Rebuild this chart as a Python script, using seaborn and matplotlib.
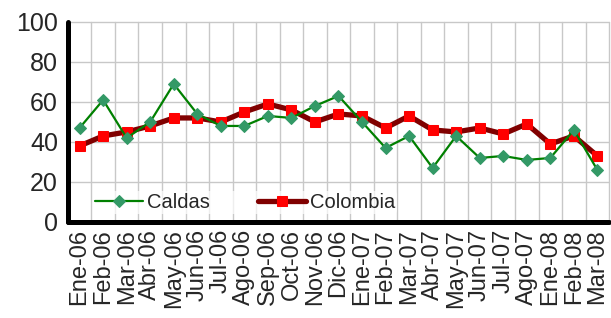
import numpy as np
import pandas as pd
import matplotlib
matplotlib.use("Agg")
import matplotlib.pyplot as plt
import seaborn as sns

# Datos
meses = ["Ene-06", "Feb-06", "Mar-06", "Abr-06", "May-06", "Jun-06", "Jul-06",
         "Ago-06", "Sep-06", "Oct-06", "Nov-06", "Dic-06", "Ene-07", "Feb-07",
         "Mar-07", "Abr-07", "May-07", "Jun-07", "Jul-07", "Ago-07", "Ene-08",
         "Feb-08", "Mar-08"]
caldas = [47, 61, 42, 50, 69, 54, 48, 48, 53, 52, 58, 63, 50, 37, 43, 27, 43,
          32, 33, 31, 32, 46, 26]
colombia = [38, 43, 45, 48, 52, 52, 50, 55, 59, 56, 50, 54, 53, 47, 53, 46, 45,
            47, 44, 49, 39, 43, 33]
y_ticks = [0, 20, 40, 60, 80, 100]

sns.set_style("white")
plt.rcParams['font.family'] = ['Liberation Sans', 'DejaVu Sans']

df = pd.DataFrame({'pos': np.arange(len(meses)), 'Caldas': caldas,
                   'Colombia': colombia})

fig = plt.figure(figsize=(6.11, 3.18), dpi=100)
ax = fig.add_axes([0.111, 0.302, 0.886, 0.629])

sns.lineplot(data=df, x='pos', y='Colombia', ax=ax, color='#800000',
             linewidth=3.8, marker='s', markersize=6.5,
             markerfacecolor='#ff0000', markeredgecolor='#ff0000',
             label='Colombia', zorder=3)
sns.lineplot(data=df, x='pos', y='Caldas', ax=ax, color='#008000',
             linewidth=1.6, marker='D', markersize=6.5,
             markerfacecolor='#339966', markeredgecolor='#339966',
             label='Caldas', zorder=4)

n = len(meses)
ax.set_xlim(-0.5, n - 0.5)
ax.set_ylim(0, 100)
ax.set_yticks(y_ticks)
ax.set_xticks(np.arange(n))
ax.set_xticklabels(meses, rotation=90, fontsize=17)
ax.set_xticks(np.arange(n + 1) - 0.5, minor=True)
ax.tick_params(axis='x', which='major', length=0, pad=5)
ax.tick_params(axis='x', which='minor', length=4, width=3.6, color='black',
               direction='out')
ax.tick_params(axis='y', which='major', length=5, width=3.6, labelsize=18,
               pad=2, direction='out')
ax.set_xlabel('')
ax.set_ylabel('')

ax.set_axisbelow(True)
ax.grid(axis='x', which='minor', color='#c8c8c8', linewidth=1, clip_on=False)
ax.grid(axis='y', which='major', color='#c8c8c8', linewidth=1, clip_on=False)
ax.grid(axis='x', which='major', visible=False)

for s in ['top', 'right']:
    ax.spines[s].set_visible(False)
for s in ['left', 'bottom']:
    ax.spines[s].set_linewidth(3.6)
    ax.spines[s].set_color('black')
    ax.spines[s].set_capstyle('round')

h, l = ax.get_legend_handles_labels()
leg = ax.legend([h[1], h[0]], [l[1], l[0]], ncol=2, loc='lower left',
                bbox_to_anchor=(0.028, -0.012), fontsize=14.5, frameon=True,
                facecolor='white', edgecolor='none', framealpha=0.7,
                handlelength=2.4, columnspacing=2.35, handletextpad=0.2,
                borderpad=0.1)

fig.savefig('out.png', dpi=100)
